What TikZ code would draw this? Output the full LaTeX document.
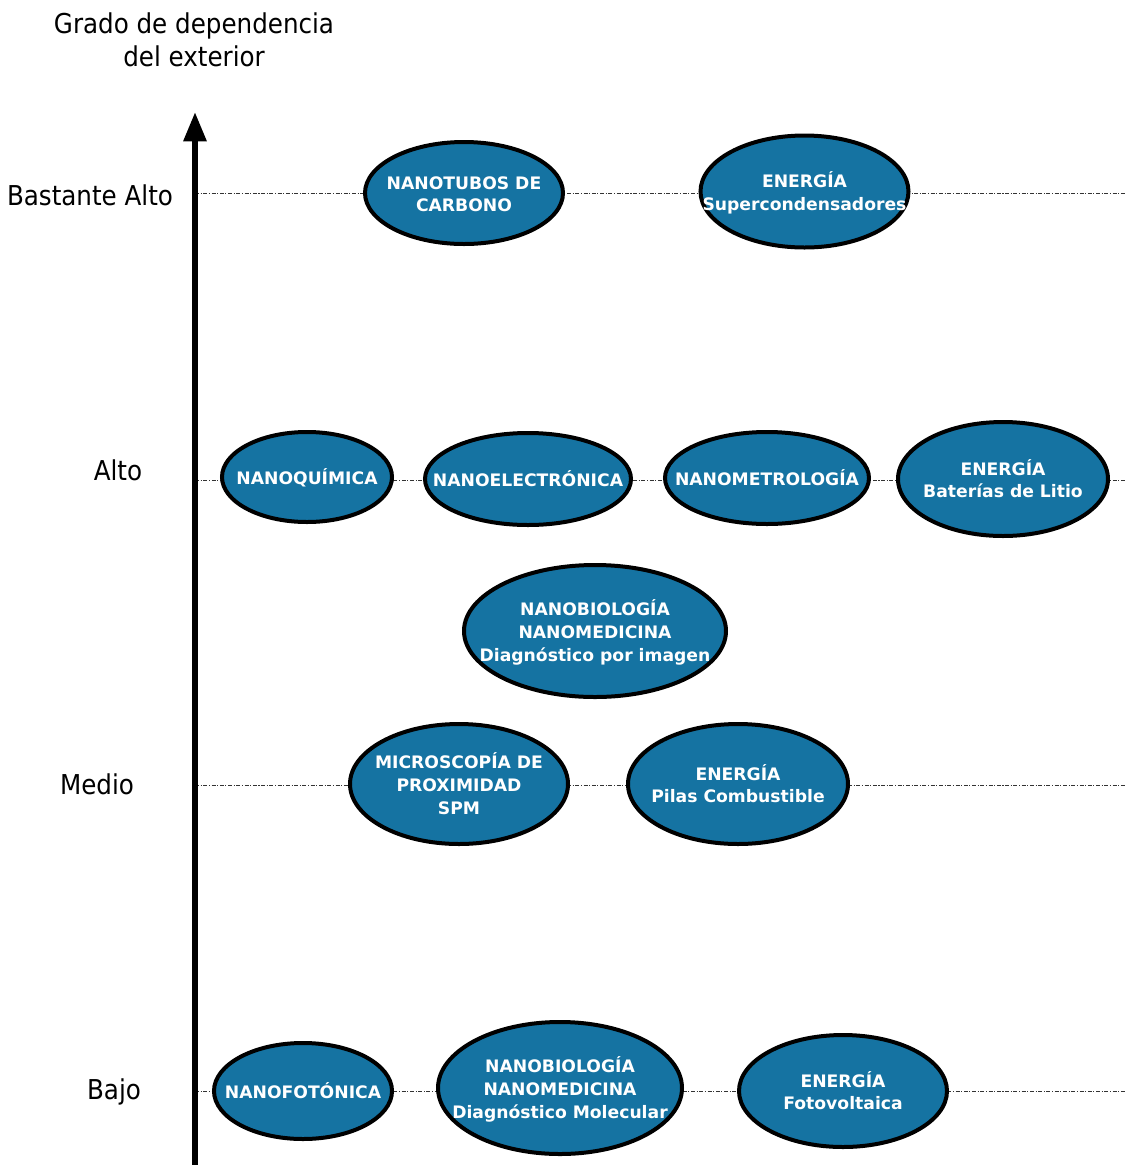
\documentclass[tikz,border=0pt]{standalone}
\usepackage{fontspec}
\setmainfont{DejaVu Sans}
\newfontfamily\condfont{DejaVu Sans Condensed}
\usepackage{xcolor}
\usepackage{tikz}
\usetikzlibrary{shapes.geometric,arrows.meta,positioning,calc}
\definecolor{nanoblue}{RGB}{21,115,162}
\newcommand{\areatext}[1]{\raisebox{-2.2pt}[\height][\depth]{\makebox[0pt]{\begin{tabular}{@{}c@{}}#1\end{tabular}}}}

\begin{document}
\begin{tikzpicture}[
  x=0.75pt, y=-0.75pt,
  area/.style={ellipse, draw=black, line width=3pt, fill=nanoblue, text=white, inner sep=0pt, font=\bfseries\fontsize{12.9}{17}\selectfont},
  radii/.style 2 args={minimum width=#1*1.5pt, minimum height=#2*1.5pt},
  levelline/.style={draw=black!80, line width=0.75pt, dash pattern=on 3pt off 1.2pt on 0.8pt off 1.2pt},
  levellabel/.style={font=\condfont\fontsize{20.5}{25}\selectfont, align=center},
  axis/.style={-{Triangle[width=16.5pt, length=22pt]}, line width=4.5pt}
]
\useasboundingbox (0,0) rectangle (1126,1165);
% level lines
\coordinate (lvlA) at (195,193);  \coordinate (lvlAend) at (1126,193);
\coordinate (lvlB) at (195,480);  \coordinate (lvlBend) at (1126,480);
\coordinate (lvlC) at (195,785);  \coordinate (lvlCend) at (1126,785);
\coordinate (lvlD) at (195,1091); \coordinate (lvlDend) at (1126,1091);
\draw[levelline] (lvlA) -- (lvlAend);
\draw[levelline] (lvlB) -- (lvlBend);
\draw[levelline] (lvlC) -- (lvlCend);
\draw[levelline] (lvlD) -- (lvlDend);
% axis
\coordinate (axisbottom) at (195,1165);
\coordinate (axistop) at (195,112);
\draw[axis] (axisbottom) -- (axistop);
\node[levellabel] (titulo) at (194,40) {Grado de dependencia\\del exterior};
\node[levellabel] (bastante) at (90,195) {Bastante Alto};
\node[levellabel] (alto) at (118,470) {Alto};
\node[levellabel] (medio) at (97,784) {Medio};
\node[levellabel] (bajo) at (114,1092) {Bajo};
% bastante alto
\node[area, radii={99}{51}] (nanotubos) at (464,193) {\areatext{NANOTUBOS DE\\CARBONO}};
\node[area, radii={104}{56}] (supercond) at (804.5,191.5) {\areatext{ENERGÍA\\Supercondensadores}};
% alto
\node[area, radii={85}{45}] (quimica) at (307,477) {\areatext{NANOQUÍMICA}};
\node[area, radii={103}{46}] (electronica) at (528,479) {\areatext{NANOELECTRÓNICA}};
\node[area, radii={102}{46}] (metrologia) at (767,478) {\areatext{NANOMETROLOGÍA}};
\node[area, radii={105}{57}] (baterias) at (1003,479) {\areatext{ENERGÍA\\Baterías de Litio}};
% medio
\node[area, radii={131}{66}] (imagen) at (595,631) {\areatext{NANOBIOLOGÍA\\NANOMEDICINA\\Diagnóstico por imagen}};
\node[area, radii={109}{60}] (spm) at (459,784) {\areatext{MICROSCOPÍA DE\\PROXIMIDAD\\SPM}};
\node[area, radii={110}{60}] (pilas) at (738,784) {\areatext{ENERGÍA\\Pilas Combustible}};
% bajo
\node[area, radii={89}{48}] (fotonica) at (303,1091) {\areatext{NANOFOTÓNICA}};
\node[area, radii={122}{66}] (molecular) at (560,1088) {\areatext{NANOBIOLOGÍA\\NANOMEDICINA\\Diagnóstico Molecular}};
\node[area, radii={104}{56}] (fotovoltaica) at (843,1091) {\areatext{ENERGÍA\\Fotovoltaica}};
\end{tikzpicture}
\end{document}
